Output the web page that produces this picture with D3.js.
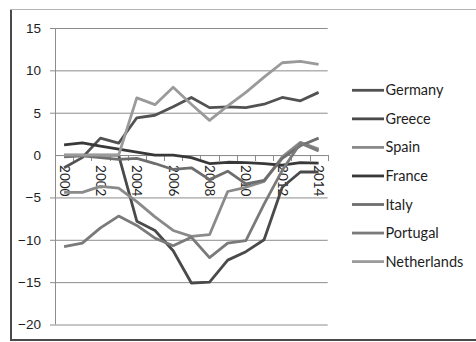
<!DOCTYPE html>
<html>
<head>
<meta charset="utf-8">
<script src="https://cdn.jsdelivr.net/npm/d3@7/dist/d3.min.js"></script>
<style>
  html, body { margin: 0; padding: 0; background: #fff; }
  svg { display: block; font-family: Lato, "Open Sans", sans-serif; }
</style>
</head>
<body>
<svg id="chart" width="476" height="342"></svg>
<script>
// Current account balance, % of GDP
const years = [2000, 2001, 2002, 2003, 2004, 2005, 2006, 2007, 2008, 2009, 2010, 2011, 2012, 2013, 2014];
const yearLabels = ["2000", "2002", "2004", "2006", "2008", "2010", "2012", "2014"];
const yTicks = [15, 10, 5, 0, -5, -10, -15, -20];

const countries = ["Germany", "Greece", "Spain", "France", "Italy", "Portugal", "Netherlands"];
const colours = ["#525252", "#4a4a4a", "#8a8a8a", "#383838", "#6e6e6e", "#7a7a7a", "#9a9a9a"];

const germany     = [-1.5, -0.3, 2.0, 1.4, 4.4, 4.7, 5.7, 6.8, 5.6, 5.7, 5.6, 6.0, 6.8, 6.4, 7.4];
const greece      = [0, 0, 0, 0, -7.8, -8.9, -11.3, -15.1, -15.0, -12.4, -11.4, -10.0, -3.8, -2.0, -2.0];
const spain       = [-4.4, -4.4, -3.7, -3.9, -5.5, -7.3, -8.9, -9.6, -9.4, -4.3, -3.8, -3.1, -0.2, 1.5, 0.7];
const france      = [1.2, 1.45, 1.05, 0.7, 0.35, 0.0, 0.0, -0.3, -1.0, -0.85, -0.9, -1.0, -1.2, -0.9, -0.95];
const italy       = [-0.2, -0.1, -0.3, -0.5, -0.4, -1.0, -1.7, -1.5, -2.9, -1.9, -3.4, -3.0, -0.4, 1.1, 2.0];
const portugal    = [-10.8, -10.4, -8.6, -7.2, -8.3, -9.8, -10.7, -9.7, -12.1, -10.4, -10.1, -5.8, -1.8, 1.4, 0.5];
const netherlands = [0, 0, 0, 0, 6.75, 5.95, 8.0, 6.0, 4.1, 5.8, 7.4, 9.2, 10.9, 11.05, 10.7];

const seriesValues = [germany, greece, spain, france, italy, portugal, netherlands];

const svg = d3.select("#chart");

// outer frame with a soft shadow on the left and bottom edges
svg.append("rect")
  .attr("x", 10.5).attr("y", 9.5).attr("width", 480).attr("height", 330)
  .attr("fill", "#fff").attr("stroke", "#b4b4b4").attr("stroke-width", 1);
svg.append("line").attr("x1", 11).attr("x2", 11).attr("y1", 10).attr("y2", 341)
  .attr("stroke", "#4a4a4a").attr("stroke-width", 2);
svg.append("line").attr("x1", 10).attr("x2", 476).attr("y1", 340).attr("y2", 340)
  .attr("stroke", "#4a4a4a").attr("stroke-width", 2);

const plotLeft = 55, plotRight = 327.7, plotTop = 28, plotBottom = 324.5;

const x = d3.scaleBand().domain(years).range([plotLeft, plotRight]).padding(0);
const y = d3.scaleLinear().domain([-20, 15]).range([plotBottom, plotTop]);

// horizontal gridlines and value axis
const yAxis = d3.axisLeft(y).tickValues(yTicks).tickSize(plotRight - plotLeft + 5).tickPadding(9)
  .tickFormat(d3.format("d"));
const gy = svg.append("g").attr("transform", `translate(${plotRight},0)`).call(yAxis);
gy.select(".domain").remove();
gy.selectAll(".tick line").attr("stroke", "#8c8c8c").attr("stroke-width", 1);
gy.selectAll(".tick text").attr("fill", "#1e1e1e").attr("font-size", 13.5);
gy.selectAll(".tick").filter(d => d === 0).select("line").attr("x2", -(plotRight - plotLeft));

svg.append("line")
  .attr("x1", plotLeft + 0.5).attr("x2", plotLeft + 0.5)
  .attr("y1", plotTop).attr("y2", plotBottom)
  .attr("stroke", "#8c8c8c");

// category axis along zero
const boundaries = d3.range(years.length + 1).map(i => plotLeft + i * x.bandwidth());
const gx = svg.append("g");
gx.append("line")
  .attr("x1", plotLeft).attr("x2", plotRight)
  .attr("y1", Math.round(y(0)) + 0.5).attr("y2", Math.round(y(0)) + 0.5)
  .attr("stroke", "#8c8c8c");
gx.selectAll("line.tick").data(boundaries).join("line")
  .attr("class", "tick")
  .attr("x1", d => Math.round(d) + 0.5).attr("x2", d => Math.round(d) + 0.5)
  .attr("y1", Math.round(y(0))).attr("y2", Math.round(y(0)) + 6)
  .attr("stroke", "#8c8c8c");
gx.selectAll("text").data(yearLabels).join("text")
  .attr("transform", d => `translate(${x(+d) + x.bandwidth() / 2 - 4.5},${y(0) + 10}) rotate(90)`)
  .attr("font-size", 13.5).attr("fill", "#1e1e1e")
  .attr("text-anchor", "start")
  .text(d => d);

// series lines
const line = d3.line().x((d, i) => x(years[i]) + x.bandwidth() / 2).y(d => y(d));
svg.append("g").selectAll("path").data(seriesValues).join("path")
  .attr("d", d => line(d))
  .attr("fill", "none")
  .attr("stroke", (d, i) => colours[i])
  .attr("stroke-width", 2.8)
  .attr("stroke-linejoin", "round");

// legend
const legend = svg.append("g").selectAll("g").data(countries).join("g")
  .attr("transform", (d, i) => `translate(352,${90.3 + i * 28.55})`);
legend.append("line").attr("x1", 0).attr("x2", 32).attr("y1", 0).attr("y2", 0)
  .attr("stroke", (d, i) => colours[i]).attr("stroke-width", 2.8);
legend.append("text").attr("x", 33.5).attr("dy", "0.35em")
  .attr("font-size", 14.5).attr("fill", "#1e1e1e")
  .text(d => d);
</script>
</body>
</html>
